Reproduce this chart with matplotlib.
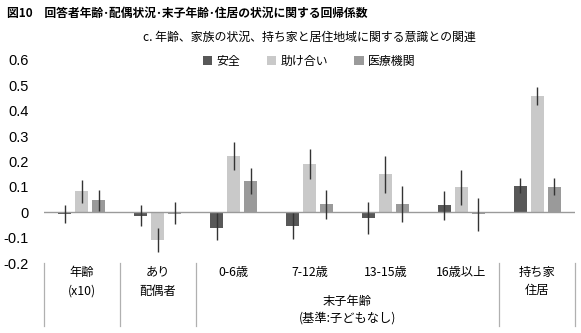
import matplotlib
matplotlib.use("Agg")
import matplotlib.pyplot as plt
import matplotlib.transforms as mtransforms
from matplotlib.patches import Patch
import numpy as np

plt.rcParams['font.family'] = ['Noto Sans CJK JP', 'DejaVu Sans']

# ---- data ----
categories = ['年齢', 'あり', '0-6歳', '7-12歳', '13-15歳', '16歳以上', '持ち家']
categories_2 = ['(x10)', '配偶者', '', '', '', '', '住居']
group_label = '末子年齢'
group_sub = '(基準:子どもなし)'
series_names = ['安全', '助け合い', '医療機関']

anzen = [-0.005, -0.013, -0.063, -0.054, -0.021, 0.027, 0.105]
anzen_lo = [-0.044, -0.053, -0.109, -0.104, -0.084, -0.029, 0.075]
anzen_hi = [0.029, 0.029, -0.004, -0.001, 0.041, 0.084, 0.135]

tasuke = [0.084, -0.109, 0.222, 0.190, 0.150, 0.100, 0.459]
tasuke_lo = [0.038, -0.158, 0.167, 0.131, 0.077, 0.029, 0.422]
tasuke_hi = [0.127, -0.063, 0.277, 0.249, 0.222, 0.167, 0.493]

iryo = [0.048, -0.005, 0.124, 0.033, 0.034, -0.008, 0.101]
iryo_lo = [0.006, -0.047, 0.072, -0.026, -0.038, -0.074, 0.068]
iryo_hi = [0.088, 0.039, 0.174, 0.088, 0.104, 0.056, 0.135]

yticks = [-0.2, -0.1, 0, 0.1, 0.2, 0.3, 0.4, 0.5, 0.6]
ytick_labels = ['-0.2', '-0.1', '0', '0.1', '0.2', '0.3', '0.4', '0.5', '0.6']

colors = ['#585858', '#c9c9c9', '#9a9a9a']

# ---- figure ----
W, H = 581, 333
fig = plt.figure(figsize=(W / 100, H / 100), dpi=100)
ax_left, ax_right = 44 / W, 575 / W
ax_bottom, ax_top = 1 - 263.1 / H, 1 - 59.9 / H
ax = fig.add_axes([ax_left, ax_bottom, ax_right - ax_left, ax_top - ax_bottom])

x = np.arange(len(categories))
offset = 0.224
width = 0.17
series = [(anzen, anzen_lo, anzen_hi), (tasuke, tasuke_lo, tasuke_hi), (iryo, iryo_lo, iryo_hi)]
for i, (vals, lo, hi) in enumerate(series):
    xs = x + (i - 1) * offset
    ax.bar(xs, vals, width=width, color=colors[i], zorder=2)
    ax.vlines(xs, lo, hi, color='#333333', lw=1.0, zorder=4)

ax.axhline(0, color='#9a9a9a', lw=1.0, zorder=3)
ax.set_xlim(-0.5, len(categories) - 0.5)
ax.set_ylim(-0.2, 0.6)
ax.set_yticks(yticks)
ax.set_yticklabels(ytick_labels, fontfamily='Liberation Sans', fontsize=10.5)
ax.tick_params(axis='y', length=0, pad=11)
ax.set_xticks([])
for s in ax.spines.values():
    s.set_visible(False)

# bottom table
lab_fs = 8.8
trans = mtransforms.blended_transform_factory(ax.transData, ax.transAxes)
for b in [-0.5, 0.5, 1.5, 5.5, 6.5]:
    ax.plot([b, b], [0, -0.31], transform=trans, color='#b0b0b0', lw=0.9, clip_on=False)
for xi, (l1, l2) in enumerate(zip(categories, categories_2)):
    ax.text(xi, -0.044, l1, transform=trans, ha='center', va='center', fontsize=lab_fs)
    if l2:
        ax.text(xi, -0.137, l2, transform=trans, ha='center', va='center', fontsize=lab_fs)
ax.text(3.5, -0.191, group_label, transform=trans, ha='center', va='center', fontsize=lab_fs)
ax.text(3.5, -0.27, group_sub, transform=trans, ha='center', va='center', fontsize=lab_fs)

# titles
fig.text(7 / W, 1 - 13 / H, '図10\u3000回答者年齢･配偶状況･末子年齢･住居の状況に関する回帰係数',
         ha='left', va='center', fontsize=8.5, fontweight='bold')
fig.text(309 / W, 1 - 37 / H, 'c. 年齢、家族の状況、持ち家と居住地域に関する意識との関連',
         ha='center', va='center', fontsize=8.6)

handles = [Patch(facecolor=c, edgecolor='none') for c in colors]
fig.legend(handles, series_names, loc='center', bbox_to_anchor=(309 / W, 1 - 61 / H),
           ncol=3, frameon=False, fontsize=8.6, handlelength=0.8, handleheight=0.8,
           handletextpad=0.35, columnspacing=2.2, borderpad=0, borderaxespad=0)

fig.savefig('out.png', dpi=100)
